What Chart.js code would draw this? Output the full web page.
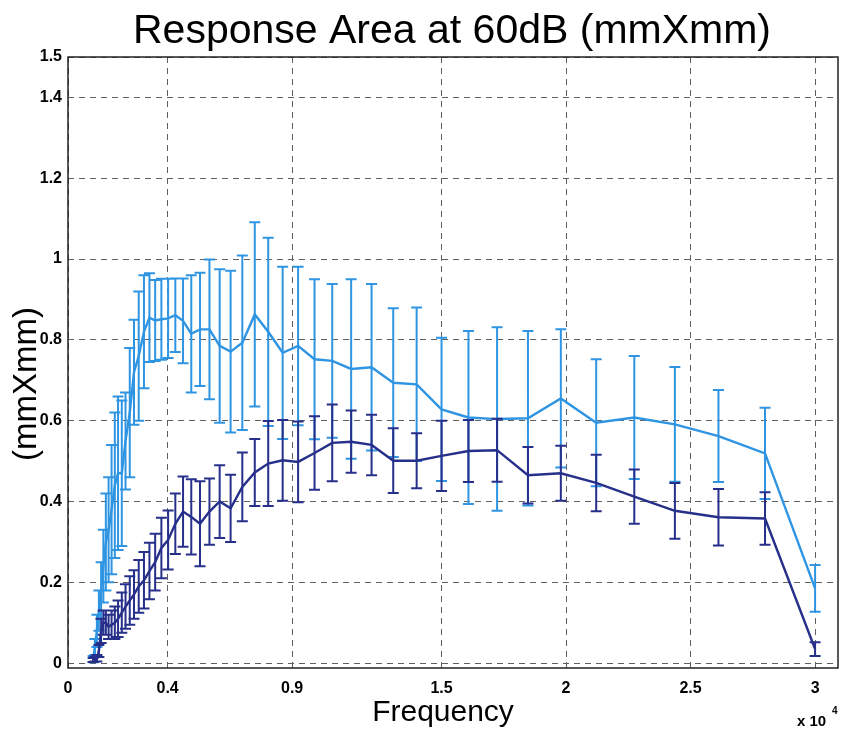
<!DOCTYPE html>
<html>
<head>
<meta charset="utf-8">
<script src="https://cdn.jsdelivr.net/npm/chart.js@4/dist/chart.umd.min.js"></script>
<style>
  html, body { margin: 0; padding: 0; background: #fff; }
  #wrap { width: 843px; height: 730px; }
</style>
</head>
<body>
<div id="wrap"><canvas id="mainChart" width="843" height="730"></canvas></div>
<script>
// frequency in units of 10^4 Hz
const freqs = [
  0.101, 0.108, 0.116, 0.124, 0.133, 0.142, 0.152, 0.163, 0.175, 0.188,
  0.201, 0.216, 0.231, 0.248, 0.265, 0.284, 0.305, 0.327, 0.350, 0.375,
  0.402, 0.431, 0.462, 0.495, 0.530, 0.568, 0.609, 0.653, 0.700, 0.750,
  0.804, 0.862, 0.924, 0.990, 1.061, 1.137, 1.219, 1.306, 1.400, 1.500,
  1.608, 1.723, 1.847, 1.979, 2.121, 2.274, 2.437, 2.612, 2.799, 3.000
];

const lightMean = [
  0.01, 0.04, 0.08, 0.13, 0.18, 0.24, 0.30, 0.33, 0.38, 0.44,
  0.47, 0.47, 0.55, 0.62, 0.72, 0.76, 0.82, 0.855, 0.848, 0.851,
  0.853, 0.861, 0.847, 0.815, 0.826, 0.826, 0.785, 0.771, 0.793, 0.863,
  0.82, 0.768, 0.785, 0.752, 0.748, 0.728, 0.732, 0.694, 0.69, 0.628,
  0.608, 0.604, 0.606, 0.655, 0.595, 0.608, 0.591, 0.562, 0.519, 0.185
];
const lightErr = [
  0.008, 0.02, 0.04, 0.05, 0.07, 0.09, 0.12, 0.13, 0.16, 0.18,
  0.19, 0.18, 0.12, 0.16, 0.13, 0.16, 0.14, 0.11, 0.10, 0.10,
  0.098, 0.091, 0.105, 0.145, 0.14, 0.173, 0.19, 0.2, 0.216, 0.228,
  0.233, 0.213, 0.196, 0.198, 0.19, 0.222, 0.206, 0.184, 0.19, 0.177,
  0.214, 0.227, 0.216, 0.171, 0.157, 0.152, 0.142, 0.114, 0.113, 0.058
];

const darkMean = [
  0.008, 0.01, 0.012, 0.03, 0.08, 0.10, 0.10, 0.09, 0.095, 0.10,
  0.11, 0.125, 0.14, 0.155, 0.17, 0.19, 0.205, 0.228, 0.25, 0.285,
  0.305, 0.345, 0.375, 0.362, 0.345, 0.375, 0.40, 0.383, 0.436, 0.472,
  0.494, 0.502, 0.498, 0.52, 0.545, 0.548, 0.54, 0.501, 0.501, 0.513,
  0.525, 0.527, 0.465, 0.47, 0.446, 0.412, 0.377, 0.361, 0.358, 0.035
];
const darkErr = [
  0.005, 0.006, 0.008, 0.015, 0.03, 0.03, 0.03, 0.03, 0.035, 0.04,
  0.045, 0.05, 0.055, 0.06, 0.06, 0.065, 0.07, 0.07, 0.07, 0.075,
  0.073, 0.075, 0.087, 0.093, 0.105, 0.082, 0.09, 0.083, 0.085, 0.083,
  0.105, 0.1, 0.1, 0.091, 0.095, 0.077, 0.075, 0.08, 0.068, 0.087,
  0.077, 0.078, 0.07, 0.068, 0.07, 0.067, 0.069, 0.07, 0.065, 0.017
];

const xTicks = [0, 0.4, 0.9, 1.5, 2, 2.5, 3];
const yTicks = [0, 0.2, 0.4, 0.6, 0.8, 1, 1.2, 1.4, 1.5];

const LIGHT = '#2f95e3';
const DARK = '#262f8a';
const GRID = '#606060';
const FONT = '"Liberation Sans", Arial, Helvetica, sans-serif';

const toPoints = ys => freqs.map((f, i) => ({ x: f, y: ys[i] }));

// vertical error bars with caps, drawn right after each dataset's line
const errorBars = {
  id: 'errorBars',
  afterDatasetDraw(chart, args) {
    const ds = chart.data.datasets[args.index];
    if (!ds.errors) return;
    const { ctx, chartArea, scales: { x, y } } = chart;
    ctx.save();
    ctx.beginPath();
    ctx.rect(chartArea.left, chartArea.top, chartArea.width, chartArea.height);
    ctx.clip();
    ctx.strokeStyle = ds.borderColor;
    ctx.lineWidth = 2;
    ctx.beginPath();
    ds.data.forEach((p, i) => {
      const px = x.getPixelForValue(p.x);
      const top = y.getPixelForValue(p.y + ds.errors[i]);
      const bot = y.getPixelForValue(p.y - ds.errors[i]);
      ctx.moveTo(px, top); ctx.lineTo(px, bot);
      ctx.moveTo(px - 5.5, top); ctx.lineTo(px + 5.5, top);
      ctx.moveTo(px - 5.5, bot); ctx.lineTo(px + 5.5, bot);
    });
    ctx.stroke();
    ctx.restore();
  }
};

// axes box, title, axis labels and the x10^4 exponent
const frame = {
  id: 'frame',
  afterDraw(chart) {
    const { ctx, chartArea: a } = chart;
    ctx.save();
    ctx.strokeStyle = '#222';
    ctx.lineWidth = 1.5;
    ctx.strokeRect(a.left, a.top, a.right - a.left, a.bottom - a.top);

    ctx.fillStyle = '#000';
    ctx.textAlign = 'center';
    ctx.textBaseline = 'alphabetic';
    ctx.font = '41px ' + FONT;
    ctx.fillText('Response Area at 60dB (mmXmm)', 452, 43);

    ctx.font = '30px ' + FONT;
    ctx.fillText('Frequency', 443, 721);

    ctx.save();
    ctx.translate(27, 384);
    ctx.rotate(-Math.PI / 2);
    ctx.textBaseline = 'middle';
    ctx.font = '33px ' + FONT;
    ctx.fillText('(mmXmm)', 0, 0);
    ctx.restore();

    ctx.textAlign = 'left';
    ctx.font = 'bold 15px ' + FONT;
    ctx.fillText('x 10', 797, 726);
    ctx.font = 'bold 10px ' + FONT;
    ctx.fillText('4', 832, 714);
    ctx.restore();
  }
};

const tickFont = { family: FONT, size: 16, weight: 'bold' };

new Chart(document.getElementById('mainChart'), {
  type: 'line',
  data: {
    datasets: [
      {
        label: 'dark',
        data: toPoints(darkMean),
        errors: darkErr,
        borderColor: DARK,
        borderWidth: 2.4,
        pointRadius: 0,
        tension: 0,
        order: 1
      },
      {
        label: 'light',
        data: toPoints(lightMean),
        errors: lightErr,
        borderColor: LIGHT,
        borderWidth: 2.4,
        pointRadius: 0,
        tension: 0,
        order: 2
      }
    ]
  },
  options: {
    responsive: false,
    animation: false,
    layout: { padding: { top: 57, right: 5, left: 0, bottom: 0 } },
    plugins: {
      legend: { display: false },
      tooltip: { enabled: false },
      title: { display: false }
    },
    scales: {
      x: {
        type: 'linear',
        min: 0,
        max: 3.092,
        afterFit: s => { s.height = 62; },
        afterBuildTicks: s => { s.ticks = xTicks.map(v => ({ value: v })); },
        ticks: { callback: v => String(v), font: tickFont, color: '#000', padding: 11, maxRotation: 0, autoSkip: false },
        grid: { color: GRID, lineWidth: 1, drawTicks: false },
        border: { display: false, dash: [6, 5] }
      },
      y: {
        type: 'linear',
        min: -0.012,
        max: 1.5,
        afterFit: s => { s.width = 68; },
        afterBuildTicks: s => { s.ticks = yTicks.map(v => ({ value: v })); },
        ticks: { callback: v => String(v), font: tickFont, color: '#000', padding: 6, autoSkip: false },
        grid: { color: GRID, lineWidth: 1, drawTicks: false },
        border: { display: false, dash: [6, 5] }
      }
    }
  },
  plugins: [errorBars, frame]
});
</script>
</body>
</html>
